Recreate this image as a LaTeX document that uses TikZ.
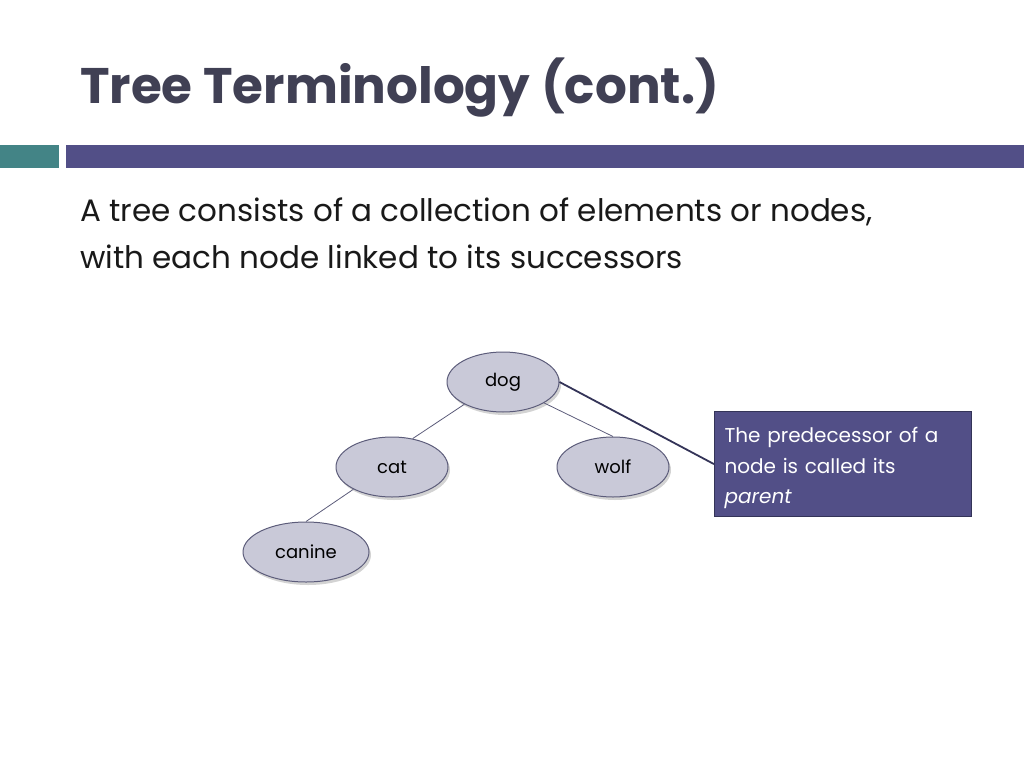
\documentclass[tikz,border=0pt]{standalone}
\usepackage{fontspec}
\setmainfont{Poppins}
\usetikzlibrary{shapes.geometric,shadows}
\definecolor{titlegray}{RGB}{64,64,84}
\definecolor{barteal}{RGB}{67,132,134}
\definecolor{barpurple}{RGB}{82,79,135}
\definecolor{ovalfill}{RGB}{201,201,216}
\definecolor{ovalline}{RGB}{92,92,122}
\definecolor{calloutline}{RGB}{52,52,88}
\begin{document}
\begin{tikzpicture}[x=1pt, y=-1pt,
    oval/.style={ellipse, draw=ovalline, fill=ovalfill, line width=1pt,
      minimum width=112pt, minimum height=60pt, inner sep=0pt,
      font=\fontsize{18}{20}\selectfont,
      drop shadow={shadow xshift=2pt, shadow yshift=-3pt, opacity=0.35}},
    bodytext/.style={anchor=base west, inner sep=0pt, text=black!90,
      font=\fontsize{31}{36}\selectfont},
    link/.style={draw=ovalline, line width=0.8pt}]
    \useasboundingbox (0,0) rectangle (1024,768);

    % Title and bars
    \node[anchor=base west, inner sep=0pt, text=titlegray,
      font=\fontsize{50}{56}\selectfont\bfseries] (title) at (80,103) {Tree Terminology (cont.)};
    \fill[barteal] (0,145) rectangle (59,168);
    \fill[barpurple] (66,145) rectangle (1024,168);

    % Body text
    \node[bodytext] (body1) at (80,221) {A tree consists of a collection of elements or nodes,};
    \node[bodytext] (body2) at (80,268) {with each node linked to its successors};

    % The tree
    \node[oval] (dog) at (503,382) {dog};
    \node[oval] (cat) at (392,467) {cat};
    \node[oval] (wolf) at (613,467) {wolf};
    \node[oval, minimum width=126pt] (canine) at (306,552) {canine};
    \draw[link] (dog.210) -- (cat.54);
    \draw[link] (dog.333) -- (wolf.north);
    \draw[link] (cat.210) -- (canine.north);

    % Callout
    \node[draw=calloutline, fill=barpurple, line width=1.2pt, text=white,
      minimum width=257pt, minimum height=105pt, anchor=north west,
      inner xsep=10pt, inner ysep=0pt, align=left, text width=237pt,
      font=\fontsize{20}{30.5}\selectfont] (note) at (714,411)
      {\rule{0pt}{23pt}The predecessor of a\\node is called its\\\textit{parent}};
    \draw[calloutline, line width=1.8pt] (dog.east) -- (note.west);
\end{tikzpicture}
\end{document}
